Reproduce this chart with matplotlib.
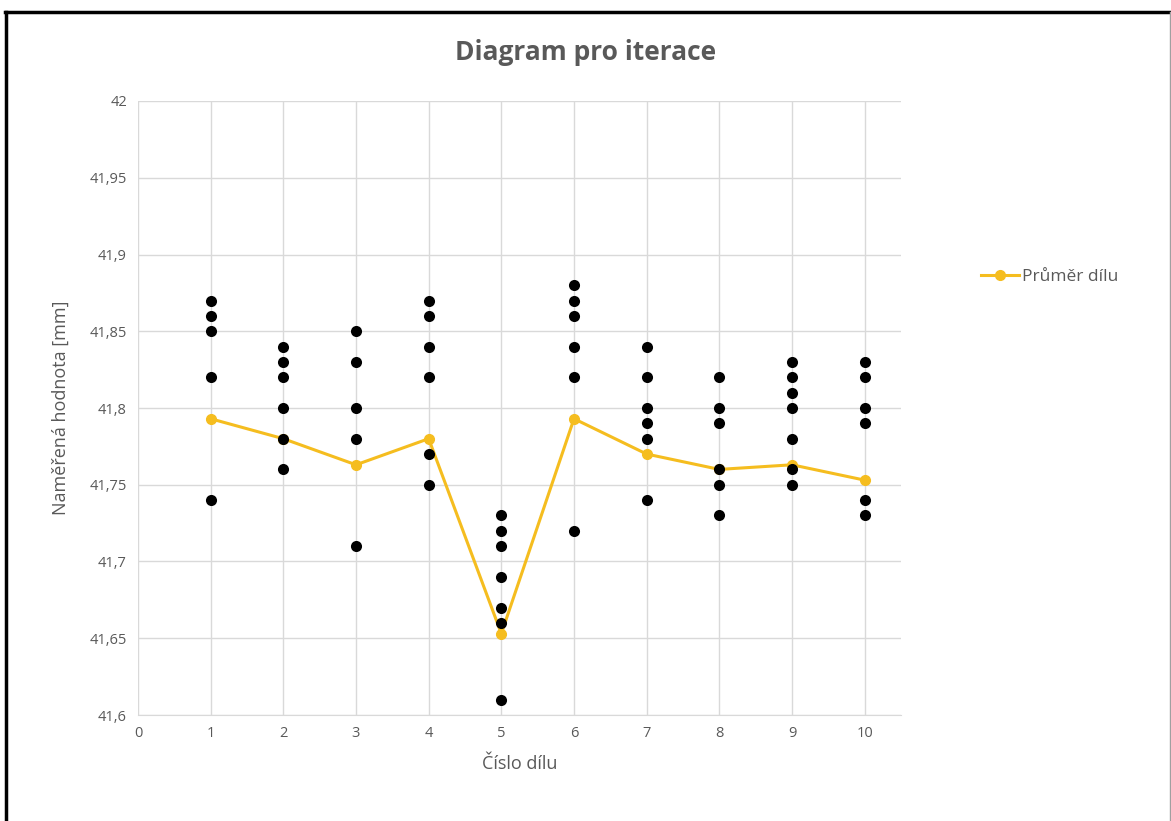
import matplotlib
matplotlib.use("Agg")
import matplotlib.pyplot as plt
from matplotlib.lines import Line2D
from matplotlib.ticker import FuncFormatter

# measured values for each part
parts = [1, 2, 3, 4, 5, 6, 7, 8, 9, 10]
measurements = [
    [41.87, 41.86, 41.85, 41.82, 41.74],
    [41.84, 41.83, 41.82, 41.80, 41.78, 41.76],
    [41.85, 41.83, 41.80, 41.78, 41.71],
    [41.87, 41.86, 41.84, 41.82, 41.77, 41.75],
    [41.73, 41.72, 41.71, 41.69, 41.67, 41.66, 41.61],
    [41.88, 41.87, 41.86, 41.84, 41.82, 41.72],
    [41.84, 41.82, 41.80, 41.79, 41.78, 41.74],
    [41.82, 41.80, 41.79, 41.76, 41.75, 41.73],
    [41.83, 41.82, 41.81, 41.80, 41.78, 41.76, 41.75],
    [41.83, 41.82, 41.80, 41.79, 41.74, 41.73],
]
means = [41.793, 41.780, 41.763, 41.780, 41.653, 41.793, 41.770, 41.760, 41.763, 41.753]

plt.rcParams['font.family'] = ['Open Sans', 'DejaVu Sans']
text_col = '#595959'
grid_col = '#d9d9d9'
yellow = '#f5bd1f'

fig = plt.figure(figsize=(11.71, 8.21), dpi=100)
ax = fig.add_axes([138 / 1171, 106 / 821, 763 / 1171, 614 / 821])

ax.plot(parts, means, color=yellow, lw=2.2, marker='o', ms=7, zorder=3,
        label='Průměr dílu')

for p, vals in zip(parts, measurements):
    ax.scatter([p] * len(vals), vals, s=64, color='black', zorder=4, linewidths=0)

ax.set_xlim(0, 10.5)
ax.set_ylim(41.6, 42)
ax.set_xticks(range(0, 11))
ax.set_yticks([41.6, 41.65, 41.7, 41.75, 41.8, 41.85, 41.9, 41.95, 42])
ax.yaxis.set_major_formatter(FuncFormatter(lambda v, _: ('%g' % round(v, 2)).replace('.', ',')))
ax.grid(True, color=grid_col, lw=1)
ax.set_axisbelow(True)
for s in ['top', 'right', 'left']:
    ax.spines[s].set_visible(False)
ax.spines['bottom'].set_color(grid_col)
ax.tick_params(length=0, colors=text_col, labelsize=10.5, pad=8)

ax.set_xlabel('Číslo dílu', color=text_col, fontsize=13, labelpad=10)
ax.set_ylabel('Naměřená hodnota [mm]', color=text_col, fontsize=13, labelpad=14)
fig.text(0.5, 1 - 52 / 821, 'Diagram pro iterace', ha='center', va='center',
         fontsize=19, fontweight='bold', color=text_col)

leg = fig.legend(loc='center left', bbox_to_anchor=(965 / 1171, 1 - 277 / 821),
                 frameon=False, fontsize=12.5, handlelength=2.2, handletextpad=0.2)
for t in leg.get_texts():
    t.set_color(text_col)

# frame around the picture
fig.add_artist(Line2D([6 / 1171, 6 / 1171], [0, 1 - 12 / 821], color='black', lw=2.5,
                      transform=fig.transFigure))
fig.add_artist(Line2D([5 / 1171, 1170 / 1171], [1 - 12 / 821, 1 - 12 / 821], color='black', lw=2.5,
                      transform=fig.transFigure))
fig.add_artist(Line2D([1169.5 / 1171, 1169.5 / 1171], [0, 1 - 12 / 821], color='#a0a0a0', lw=1,
                      transform=fig.transFigure))

fig.savefig('out.png', dpi=100)
